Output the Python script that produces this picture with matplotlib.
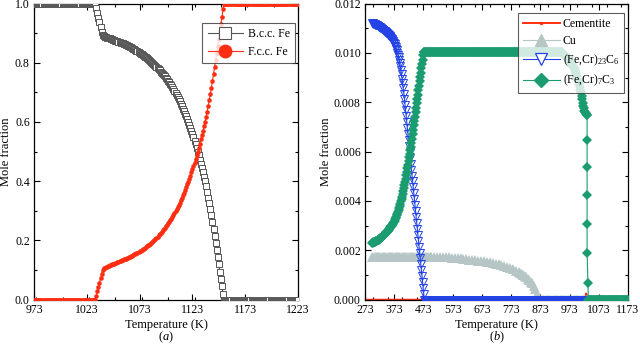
import numpy as np
import matplotlib
matplotlib.use('Agg')
import matplotlib.pyplot as plt
from matplotlib.ticker import MultipleLocator, FormatStrFormatter
from matplotlib.lines import Line2D

plt.rcParams['font.family'] = ['Liberation Serif', 'DejaVu Serif']
plt.rcParams['mathtext.fontset'] = 'custom'
plt.rcParams['mathtext.rm'] = 'Liberation Serif'
plt.rcParams['mathtext.it'] = 'Liberation Serif:italic'
plt.rcParams['mathtext.bf'] = 'Liberation Serif:bold'

# ---------------- Panel (a) data ----------------
temp_a = np.arange(973, 1224)  # 973 .. 1223 K, 1 K steps

bcc_transition = [
    0.984, 0.968, 0.952, 0.937, 0.921, 0.905, 0.893, 0.889,
    0.888, 0.886, 0.885, 0.884, 0.883, 0.882, 0.880, 0.879, 0.878,
    0.877, 0.875, 0.874, 0.872, 0.871, 0.869, 0.868, 0.866,
    0.865, 0.863, 0.862, 0.860, 0.859, 0.857, 0.856, 0.854,
    0.852, 0.850, 0.847, 0.845, 0.843, 0.841, 0.838, 0.836,
    0.833, 0.831, 0.828, 0.826, 0.823, 0.820, 0.818, 0.815,
    0.812, 0.808, 0.805, 0.802, 0.799, 0.795, 0.792, 0.789,
    0.785, 0.781, 0.778, 0.774, 0.770, 0.766, 0.763, 0.759,
    0.754, 0.750, 0.745, 0.740, 0.735, 0.729, 0.724, 0.718,
    0.712, 0.705, 0.699, 0.692, 0.685, 0.677, 0.670, 0.662,
    0.654, 0.645, 0.637, 0.628, 0.619, 0.609, 0.600, 0.590,
    0.580, 0.569, 0.559, 0.548, 0.537, 0.525, 0.513, 0.500,
    0.487, 0.473, 0.459, 0.445, 0.430, 0.415, 0.400,
    0.383, 0.365, 0.345, 0.327, 0.306, 0.285, 0.262, 0.238, 0.215,
    0.191, 0.167, 0.143, 0.119, 0.094, 0.070, 0.045, 0.020, 0.0,
]  # 1032 .. 1153 K

fcc_transition = [
    0.013, 0.028, 0.043, 0.058, 0.072, 0.086, 0.099, 0.106,
    0.108, 0.110, 0.111, 0.113, 0.114, 0.116, 0.117, 0.119, 0.120,
    0.122, 0.123, 0.125, 0.126, 0.128, 0.129, 0.131, 0.133,
    0.134, 0.136, 0.137, 0.139, 0.140, 0.142, 0.144, 0.145,
    0.147, 0.149, 0.151, 0.153, 0.155, 0.157, 0.159, 0.161,
    0.163, 0.165, 0.168, 0.170, 0.172, 0.175, 0.177, 0.180,
    0.183, 0.186, 0.189, 0.192, 0.195, 0.198, 0.202, 0.205,
    0.209, 0.213, 0.217, 0.221, 0.225, 0.229, 0.234, 0.238,
    0.243, 0.248, 0.253, 0.258, 0.263, 0.269, 0.274, 0.280,
    0.286, 0.292, 0.299, 0.306, 0.313, 0.320, 0.328, 0.336,
    0.344, 0.353, 0.361, 0.370, 0.380, 0.389, 0.399, 0.409,
    0.419, 0.430, 0.441, 0.452, 0.463, 0.475, 0.487, 0.500,
    0.513, 0.527, 0.541, 0.555, 0.570, 0.585, 0.600,
    0.617, 0.635, 0.655, 0.673, 0.694, 0.715, 0.738, 0.762, 0.785,
    0.809, 0.833, 0.857, 0.881, 0.906, 0.930, 0.955, 0.980, 1.0,
]  # 1032 .. 1153 K

bcc_fe = [1.0] * 59 + bcc_transition + [0.0] * 70
fcc_fe = [0.0] * 59 + fcc_transition + [1.0] * 70

# ---------------- Panel (b) data ----------------
temp_b_low = np.arange(298, 478, 2)      # 298 .. 476 K
m23c6_low = [
    0.01120, 0.01119, 0.01118, 0.01116, 0.01115, 0.01114, 0.01113, 0.01112,
    0.01111, 0.01109, 0.01108, 0.01106, 0.01104, 0.01103, 0.01101, 0.01099,
    0.01098, 0.01096, 0.01094, 0.01092, 0.01090, 0.01088, 0.01086, 0.01084,
    0.01082, 0.01079, 0.01077, 0.01074, 0.01072, 0.01069, 0.01067, 0.01064,
    0.01061, 0.01058, 0.01054, 0.01050, 0.01045, 0.01040, 0.01035, 0.01029,
    0.01023, 0.01017, 0.01010, 0.01001, 0.00992, 0.00982, 0.00971, 0.00959,
    0.00946, 0.00930, 0.00913, 0.00895, 0.00876, 0.00856, 0.00835, 0.00813,
    0.00790, 0.00767, 0.00743, 0.00719, 0.00695, 0.00671, 0.00647, 0.00623,
    0.00599, 0.00575, 0.00551, 0.00527, 0.00503, 0.00479, 0.00455, 0.00431,
    0.00407, 0.00383, 0.00359, 0.00335, 0.00311, 0.00287, 0.00263, 0.00239,
    0.00215, 0.00191, 0.00167, 0.00143, 0.00119, 0.00095, 0.00071, 0.00047,
    0.00023, 0.0,
]
m7c3_low = [
    0.00230, 0.00231, 0.00232, 0.00233, 0.00234, 0.00235, 0.00236, 0.00237,
    0.00238, 0.00240, 0.00241, 0.00242, 0.00244, 0.00246, 0.00249, 0.00251,
    0.00253, 0.00256, 0.00258, 0.00260, 0.00263, 0.00265, 0.00268, 0.00270,
    0.00273, 0.00275, 0.00278, 0.00280, 0.00283, 0.00286, 0.00290, 0.00293,
    0.00297, 0.00300, 0.00304, 0.00308, 0.00312, 0.00316, 0.00320, 0.00325,
    0.00330, 0.00336, 0.00342, 0.00349, 0.00356, 0.00364, 0.00372, 0.00380,
    0.00389, 0.00398, 0.00408, 0.00418, 0.00429, 0.00440, 0.00452, 0.00464,
    0.00477, 0.00490, 0.00504, 0.00518, 0.00532, 0.00547, 0.00562, 0.00577,
    0.00592, 0.00607, 0.00618, 0.00635, 0.00653, 0.00671, 0.00689, 0.00706,
    0.00724, 0.00742, 0.00760, 0.00777, 0.00795, 0.00813, 0.00830, 0.00848,
    0.00866, 0.00884, 0.00901, 0.00919, 0.00937, 0.00954, 0.00972, 0.00990,
    0.01002, 0.01004,
]
temp_b_high = np.arange(478, 1174, 2)    # 478 .. 1172 K
m23c6_high = [0.0] * len(temp_b_high)

temp_m7c3_plateau = np.arange(478, 950, 2)
m7c3_plateau = [0.01003] * len(temp_m7c3_plateau)
temp_m7c3_decline = np.arange(950, 1034, 2)   # 950 .. 1032 K
m7c3_decline = [
    0.00995, 0.00994, 0.00992, 0.00991, 0.00989, 0.00987, 0.00985, 0.00982,
    0.00980, 0.00978, 0.00975, 0.00972, 0.00968, 0.00964, 0.00960, 0.00955,
    0.00952, 0.00948, 0.00944, 0.00938, 0.00933, 0.00927, 0.00920, 0.00912,
    0.00905, 0.00895, 0.00888, 0.00880, 0.00872, 0.00862, 0.00851, 0.00840,
    0.00826, 0.00812, 0.00798, 0.00785, 0.00775, 0.00765, 0.00760, 0.00756,
    0.00752, 0.00750,
]
temp_m7c3_drop = [1033, 1033, 1033, 1033, 1033, 1033, 1036]
m7c3_drop = [0.00748, 0.00647, 0.00539, 0.00424, 0.00307, 0.00188, 0.00066]
temp_m7c3_zero = np.arange(1037, 1174, 2)
m7c3_zero = [0.0] * len(temp_m7c3_zero)

temp_cu_flat = np.arange(298, 500, 4)
cu_flat = [0.00175] * len(temp_cu_flat)
temp_cu_curve = [500, 510, 520, 530, 540, 550, 560, 570, 580, 590, 600, 610,
                 620, 630, 640, 650, 660, 670, 680, 690, 700, 710, 720, 730,
                 740, 750, 760, 770, 780, 790, 800, 805, 810, 815, 820, 825,
                 830, 835, 840, 845, 850, 855, 860, 863]
cu_curve = [0.00174, 0.00174, 0.00173, 0.00173, 0.00172, 0.00172, 0.00171,
            0.00170, 0.00169, 0.00168, 0.00167, 0.00165, 0.00164, 0.00162,
            0.00161, 0.00159, 0.00158, 0.00156, 0.00155, 0.00153, 0.00151,
            0.00149, 0.00146, 0.00143, 0.00140, 0.00137, 0.00133, 0.00128,
            0.00123, 0.00117, 0.00111, 0.00107, 0.00103, 0.00099, 0.00095,
            0.00090, 0.00085, 0.00079, 0.00073, 0.00066, 0.00056, 0.00042,
            0.00022, 0.0]
temp_cu_zero = np.arange(867, 1174, 4)
cu_zero = [0.0] * len(temp_cu_zero)

temp_cem = list(np.arange(273, 1029, 2)) + [1029] + list(np.arange(1031, 1174, 2))
cementite = [0.0] * len(np.arange(273, 1029, 2)) + [0.00025] + [0.0] * len(np.arange(1031, 1174, 2))

# ---------------- Styles ----------------
RED = '#ff2d12'
GREY_SQ = '#555555'
BLUE = '#2343e6'
GREEN = '#1a9c70'
CU = '#b6c6c6'
FS = 8.5

fig = plt.figure(figsize=(6.4, 3.45), dpi=100)
ax_a = fig.add_axes([34 / 640, 45.3 / 345, 264 / 640, 296.2 / 345])
ax_b = fig.add_axes([365 / 640, 45.3 / 345, 263 / 640, 296.2 / 345])

# Panel a
ax_a.plot(temp_a, bcc_fe, color=GREY_SQ, lw=0.8, marker='s', ms=3.8,
          mfc='white', mec=GREY_SQ, mew=0.7, zorder=3)
ax_a.plot(temp_a, fcc_fe, color=RED, lw=0.8, marker='o', ms=3.3,
          mfc=RED, mec=RED, mew=0, zorder=4)
ax_a.set_xlim(973, 1223)
ax_a.set_ylim(0, 1.0)
ax_a.set_xticks(np.arange(973, 1224, 50))
ax_a.xaxis.set_minor_locator(MultipleLocator(25))
ax_a.yaxis.set_major_locator(MultipleLocator(0.2))
ax_a.yaxis.set_minor_locator(MultipleLocator(0.1))
ax_a.yaxis.set_major_formatter(FormatStrFormatter('%.1f'))

h_a = [Line2D([], [], color=GREY_SQ, lw=0.8, marker='s', ms=8, mfc='white',
              mec=GREY_SQ, mew=0.8),
       Line2D([], [], color=RED, lw=0.8, marker='o', ms=9, mfc=RED, mec=RED)]
leg_a = ax_a.legend(h_a, ['B.c.c. Fe', 'F.c.c. Fe'], loc='upper right',
                    bbox_to_anchor=(0.989, 0.934), borderaxespad=0,
                    fontsize=FS, frameon=True, fancybox=False, handlelength=3.0,
                    handletextpad=0.4, borderpad=0.45, labelspacing=0.45)
leg_a.get_frame().set_edgecolor('#333333')
leg_a.get_frame().set_linewidth(0.8)

# Panel b
ax_b.plot(temp_cem, cementite, color=RED, lw=1.4, marker='.', ms=1.5, zorder=2)
ax_b.plot(list(temp_cu_flat) + temp_cu_curve + list(temp_cu_zero),
          cu_flat + cu_curve + cu_zero, color=CU, lw=0.8, marker='^', ms=6.5,
          mfc=CU, mec=CU, mew=0, zorder=3)
ax_b.plot(list(temp_b_low) + list(temp_b_high), m23c6_low + m23c6_high,
          color=BLUE, lw=0.8, marker='v', ms=6, mfc='none', mec=BLUE,
          mew=0.7, zorder=4)
ax_b.plot(list(temp_b_low) + list(temp_m7c3_plateau) + list(temp_m7c3_decline)
          + temp_m7c3_drop + list(temp_m7c3_zero),
          m7c3_low + m7c3_plateau + m7c3_decline + m7c3_drop + m7c3_zero,
          color=GREEN, lw=0.8, marker='D', ms=5.2, mfc=GREEN, mec=GREEN,
          mew=0, zorder=5)
ax_b.set_xlim(273, 1173)
ax_b.set_ylim(0, 0.012)
ax_b.set_xticks(np.arange(273, 1174, 100))
ax_b.xaxis.set_minor_locator(MultipleLocator(50))
ax_b.yaxis.set_major_locator(MultipleLocator(0.002))
ax_b.yaxis.set_minor_locator(MultipleLocator(0.001))
ax_b.yaxis.set_major_formatter(FormatStrFormatter('%.3f'))

h_b = [Line2D([], [], color=RED, lw=1.4, marker='.', ms=3),
       Line2D([], [], color=CU, lw=0.8, marker='^', ms=9, mfc=CU, mec=CU),
       Line2D([], [], color=BLUE, lw=0.8, marker='v', ms=9, mfc='white',
              mec=BLUE, mew=0.9),
       Line2D([], [], color=GREEN, lw=0.8, marker='D', ms=7.5, mfc=GREEN,
              mec=GREEN)]
labels_b = ['Cementite', 'Cu', r'(Fe,Cr)$_{\mathrm{23}}$C$_{\mathrm{6}}$',
            r'(Fe,Cr)$_{\mathrm{7}}$C$_{\mathrm{3}}$']
leg_b = ax_b.legend(h_b, labels_b, loc='upper right',
                    bbox_to_anchor=(0.985, 0.968), borderaxespad=0,
                    fontsize=FS, frameon=True, fancybox=False, handlelength=3.1,
                    handletextpad=0.25, borderpad=0.4, labelspacing=0.45)
leg_b.get_frame().set_edgecolor('#333333')
leg_b.get_frame().set_linewidth(0.8)

for ax, letter in ((ax_a, 'a'), (ax_b, 'b')):
    ax.tick_params(which='both', direction='in', top=True, right=True,
                   labelsize=FS, width=0.8, pad=3)
    ax.tick_params(which='major', length=4)
    ax.tick_params(which='minor', length=2)
    for s in ax.spines.values():
        s.set_linewidth(0.9)
    ax.set_xlabel('Temperature (K)', fontsize=FS + 0.5)
    ax.set_ylabel('Mole fraction', fontsize=FS + 0.5)
    ax.xaxis.set_label_coords(0.5, -0.064)
    pos = ax.get_position()
    fig.text(pos.x0 + pos.width / 2, 4.5 / 345,
             '(' + r'$\mathit{' + letter + '}$' + ')',
             ha='center', va='baseline', fontsize=FS + 0.5)

ax_a.yaxis.set_label_coords(-0.082, 0.5)
ax_b.yaxis.set_label_coords(-0.125, 0.5)

fig.savefig('out.png', dpi=100)
